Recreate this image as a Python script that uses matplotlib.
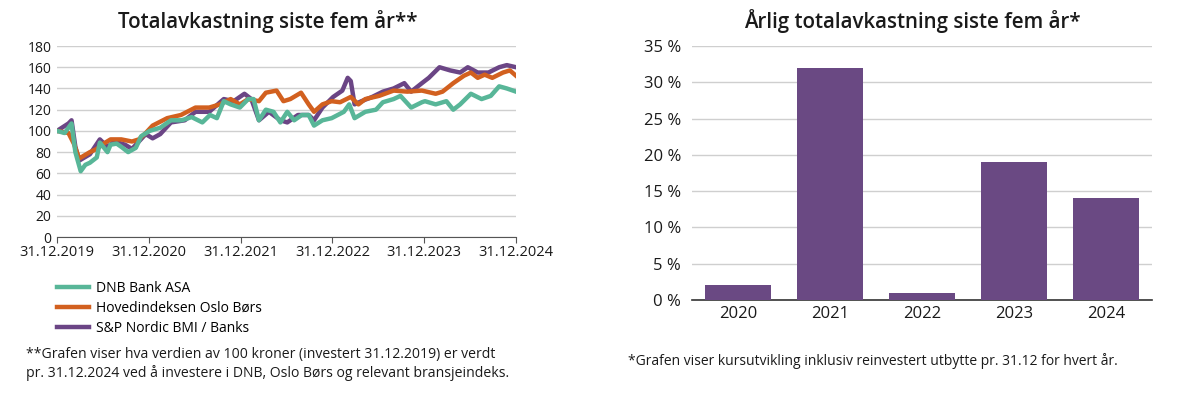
import matplotlib.pyplot as plt

plt.rcParams['font.family'] = ['Open Sans', 'DejaVu Sans']

# Line chart: months since 31.12.2019 and indexed value (start = 100)
dnb_m = [0, 1.0, 1.9, 2.4, 3.1, 3.7, 4.3, 5.2, 5.6, 6.6, 7.0, 7.8, 8.4, 9.3, 10.3, 11.0, 12.1,
         13.5, 14.9, 16.3, 17.6, 19.0, 20.0, 20.9, 21.8, 22.7, 23.9, 25.0, 25.7, 26.4, 27.3,
         28.3, 29.2, 30.1, 31.0, 32.0, 32.9, 33.6, 34.7, 35.9, 37.5, 38.2, 38.9, 40.3, 41.7,
         42.6, 44.0, 44.9, 46.3, 47.7, 48.1, 49.5, 50.9, 51.8, 52.7, 54.1, 55.5, 56.7, 57.8,
         58.8, 60.0]
dnb_v = [100, 98, 107, 80, 62, 68, 70, 75, 89, 80, 87, 88, 85, 80, 84, 95, 100,
         103, 110, 110, 113, 108, 115, 112, 128, 125, 122, 130, 130, 110, 120,
         118, 108, 118, 110, 115, 115, 105, 110, 112, 118, 125, 112, 118, 120,
         127, 130, 133, 122, 127, 128, 125, 128, 120, 125, 135, 130, 133, 142,
         140, 137]

obx_m = [0, 1.5, 2.2, 2.9, 4.3, 5.2, 6.1, 7.0, 8.4, 9.8, 10.7, 11.6, 12.5, 14.4, 16.2,
         18.1, 19.9, 21.3, 22.7, 23.9, 25.0, 26.4, 27.3, 28.7, 29.6, 30.5, 31.9, 32.9, 33.6,
         34.7, 35.9, 37.0, 38.4, 39.4, 40.3, 42.1, 44.0, 45.8, 47.7, 49.5, 50.4, 51.8, 53.2,
         54.1, 55.0, 55.9, 56.9, 58.3, 59.2, 60.0]
obx_v = [100, 98, 88, 74, 80, 83, 88, 92, 92, 90, 92, 98, 105, 112, 115,
         122, 122, 125, 130, 125, 130, 128, 136, 138, 128, 130, 136, 125, 118,
         125, 128, 127, 132, 125, 130, 133, 138, 137, 138, 135, 137, 145, 152,
         155, 150, 153, 150, 155, 157, 152]

bank_m = [0, 1.5, 1.9, 2.4, 2.9, 4.3, 5.6, 6.6, 7.5, 8.9, 9.8, 10.7, 11.6, 12.5, 13.5,
          14.9, 16.7, 18.1, 19.9, 21.8, 23.1, 24.5, 25.4, 26.4, 27.7, 29.2, 30.1, 31.5,
          32.9, 33.6, 34.7, 36.1, 37.3, 38.0, 38.4, 38.9, 39.8, 41.2, 42.6, 44.0, 45.4,
          46.3, 47.7, 48.6, 50.0, 51.4, 52.7, 53.7, 55.0, 56.4, 57.8, 58.8, 60.0]
bank_v = [100, 107, 110, 85, 72, 78, 92, 85, 90, 87, 83, 90, 97, 93, 97,
          108, 110, 118, 118, 130, 128, 135, 130, 110, 118, 110, 108, 115,
          115, 110, 122, 132, 138, 150, 147, 125, 128, 132, 137, 140, 145,
          137, 145, 150, 160, 157, 155, 160, 155, 155, 160, 162, 160]

date_labels = ['31.12.2019', '31.12.2020', '31.12.2021', '31.12.2022', '31.12.2023', '31.12.2024']

# Bar chart
years = ['2020', '2021', '2022', '2023', '2024']
annual = [2, 32, 1, 19, 14]

teal = '#58b698'
orange = '#d2601f'
purple = '#6b4585'
grid = '#cfcfcf'
txt = '#1a1a1a'

fig = plt.figure(figsize=(12, 3.96), dpi=100)

# left: total return line chart
ax = fig.add_axes([0.0475, 0.4015, 0.3825, 0.4823])
ax.plot(bank_m, bank_v, color=purple, lw=3.2, label='S&P Nordic BMI / Banks', zorder=3)
ax.plot(obx_m, obx_v, color=orange, lw=3.2, label='Hovedindeksen Oslo Børs', zorder=4)
ax.plot(dnb_m, dnb_v, color=teal, lw=3.2, label='DNB Bank ASA', zorder=5)
ax.set_xlim(0, 60)
ax.set_ylim(0, 180)
ax.set_yticks(range(0, 181, 20))
ax.set_xticks(range(0, 61, 12))
ax.set_xticklabels(date_labels)
ax.grid(axis='y', color=grid, lw=1)
ax.set_axisbelow(True)
for s in ['top', 'right', 'left']:
    ax.spines[s].set_visible(False)
ax.spines['bottom'].set_color('#555555')
ax.tick_params(axis='y', length=0, labelsize=10, colors=txt, pad=4)
ax.tick_params(axis='x', length=4, color='#555555', labelsize=10.5, colors=txt, pad=2)
ax.set_title('Totalavkastning siste fem år**', fontsize=14.8, fontweight='semibold',
             color=txt, pad=13, x=0.46)

handles, labels = ax.get_legend_handles_labels()
fig.legend(handles[::-1], labels[::-1], loc='upper left', bbox_to_anchor=(0.043, 0.305),
           frameon=False, fontsize=10, handlelength=2.3, handletextpad=0.5,
           labelspacing=0.38, borderaxespad=0)

fig.text(0.022, 0.08, '**Grafen viser hva verdien av 100 kroner (investert 31.12.2019) er verdt\n'
         'pr. 31.12.2024 ved å investere i DNB, Oslo Børs og relevant bransjeindeks.',
         fontsize=10.1, color=txt, linespacing=1.25, va='center')

# right: annual return bar chart
bx = fig.add_axes([0.5767, 0.2424, 0.3833, 0.6414])
bx.bar(years, annual, width=0.71, color='#6a4983', zorder=3)
bx.set_xlim(-0.5, 4.5)
bx.set_ylim(0, 35)
bx.set_yticks(range(0, 36, 5))
bx.set_yticklabels([f'{v} %' for v in range(0, 36, 5)])
bx.grid(axis='y', color=grid, lw=1)
bx.set_axisbelow(True)
for s in ['top', 'right', 'left']:
    bx.spines[s].set_visible(False)
bx.spines['bottom'].set_color('#333333')
bx.spines['bottom'].set_linewidth(1.2)
bx.tick_params(axis='both', length=0, labelsize=12, colors=txt)
bx.tick_params(axis='y', pad=8)
bx.tick_params(axis='x', pad=4)
bx.set_title('Årlig totalavkastning siste fem år*', fontsize=14.8, fontweight='semibold',
             color=txt, pad=13, x=0.48)

fig.text(0.523, 0.088, '*Grafen viser kursutvikling inklusiv reinvestert utbytte pr. 31.12 for hvert år.',
         fontsize=10, color=txt, va='center')

fig.savefig('out.png', dpi=100)
